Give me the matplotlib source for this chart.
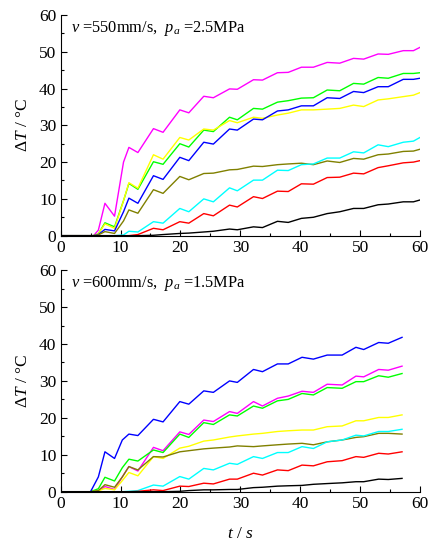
import matplotlib
matplotlib.use("Agg")
import matplotlib.pyplot as plt
from matplotlib.ticker import MultipleLocator

plt.rcParams["font.family"] = ["Liberation Serif", "DejaVu Serif"]
plt.rcParams["mathtext.fontset"] = "custom"
plt.rcParams["mathtext.rm"] = "Liberation Serif"
plt.rcParams["mathtext.it"] = "Liberation Serif:italic"

# colours of the eight curves (same order in both panels)
colors = ["#ff00ff", "#00ff00", "#ffff00", "#0000ff", "#808000", "#00ffff", "#ff0000", "#000000"]

# upper panel: v = 550 mm/s, pa = 2.5 MPa
t_top = [0, 5.5, 6.3, 7.4, 9.0, 10.5, 11.4, 12.9, 15.5, 17.1, 19.9, 21.4, 23.9, 25.5, 28.2, 29.5,
         32.2, 33.7, 36.2, 38.0, 40.2, 42.2, 44.5, 46.6, 48.9, 50.6, 53.0, 54.7, 57.2, 58.9, 60.0]
magenta_top = [0, 0, 1.5, 8.8, 5.3, 20, 24, 22.6, 29.1, 28.1, 34.2, 33.4, 37.9, 37.5, 39.9, 39.8,
               42.4, 42.3, 44.3, 44.4, 45.8, 45.8, 47.1, 46.9, 48.2, 48.0, 49.4, 49.3, 50.3, 50.3, 51.2]
green_top = [0, 0, 0.5, 3.5, 2.4, 9.5, 14.2, 12.6, 20.1, 19.4, 25.0, 24.1, 28.7, 28.3, 32.2, 31.5,
             34.6, 34.4, 36.3, 36.7, 37.4, 37.5, 39.6, 39.4, 41.4, 41.2, 43.0, 42.8, 44.1, 44.1, 44.3]
yellow_top = [0, 0, 0.5, 3.2, 2.0, 9.5, 14.4, 12.9, 22.0, 20.8, 26.7, 26.0, 29.0, 28.7, 31.3, 30.7,
              32.2, 31.9, 32.8, 33.3, 34.2, 34.2, 34.4, 34.6, 35.5, 35.1, 36.9, 37.2, 37.8, 38.2, 38.9]
blue_top = [0, 0, 0.3, 1.7, 1.3, 6.5, 10.2, 8.8, 16.3, 15.3, 21.3, 20.4, 25.4, 24.9, 29.0, 28.7,
            31.7, 31.5, 33.9, 34.2, 35.3, 35.3, 37.5, 37.3, 39.2, 38.9, 40.5, 40.5, 42.5, 42.5, 42.8]
olive_top = [0, 0, 0.2, 1.1, 0.6, 4.0, 7.0, 6.1, 12.5, 11.5, 16.1, 15.2, 16.9, 17.0, 17.9, 18.0,
             18.9, 18.8, 19.3, 19.5, 19.7, 19.3, 20.3, 19.9, 21.0, 20.8, 22.0, 22.2, 22.9, 23.0, 23.5]
cyan_top = [0, 0, 0, 0, 0, 0.2, 1.2, 1.0, 3.8, 3.4, 7.4, 6.5, 10.0, 9.2, 13.0, 12.2,
            15.1, 15.1, 17.8, 17.7, 19.3, 19.5, 21.1, 21.1, 22.8, 22.5, 24.7, 24.2, 25.4, 25.7, 26.7]
red_top = [0, 0, 0, 0, 0, 0, 0, 0.3, 2.0, 1.6, 3.8, 3.4, 6.0, 5.4, 8.3, 7.8,
           10.6, 10.1, 12.1, 12.0, 14.1, 14.0, 15.8, 15.9, 17.0, 16.8, 18.5, 19.0, 19.8, 20.0, 20.4]
black_top = [0, 0, 0, 0, 0, 0, 0, 0, 0.1, 0.3, 0.6, 0.7, 1.0, 1.2, 1.8, 1.6,
             2.4, 2.2, 3.9, 3.6, 4.7, 5.0, 6.0, 6.5, 7.4, 7.4, 8.4, 8.6, 9.2, 9.2, 9.7]

# lower panel: v = 600 mm/s, pa = 1.5 MPa
t_bot = [0, 5.0, 6.3, 7.4, 9.0, 10.3, 11.4, 12.9, 15.5, 17.1, 19.9, 21.4, 23.9, 25.5, 28.2,
         29.5, 32.2, 33.7, 36.2, 38.0, 40.3, 42.2, 44.5, 47.0, 49.3, 50.6, 53.1, 54.7, 57.0]
magenta_bot = [0, 0, 0.2, 1.4, 0.6, 4.0, 6.8, 5.6, 12.0, 11.1, 16.2, 15.5, 19.4, 19.0, 21.7,
               21.2, 24.4, 23.2, 25.3, 25.9, 27.2, 26.9, 29.1, 28.9, 31.3, 31.1, 33.1, 32.9, 34.0]
green_bot = [0, 0, 0.8, 3.9, 2.9, 6.5, 8.8, 8.3, 11.3, 10.6, 15.6, 14.7, 18.7, 18.2, 20.8,
             20.5, 23.2, 22.6, 24.6, 25.0, 26.6, 26.2, 28.2, 28.0, 29.8, 29.8, 31.4, 31.0, 32.0]
yellow_bot = [0, 0, 0.2, 0.9, 0.5, 3.0, 5.2, 4.3, 9.5, 9.0, 11.8, 12.3, 13.7, 14.0, 14.8,
              15.1, 15.6, 15.8, 16.3, 16.5, 16.7, 16.7, 17.6, 17.8, 19.2, 19.2, 20.1, 20.1, 20.8]
blue_bot = [0, 0, 4.0, 10.8, 9.0, 14.0, 15.6, 15.2, 19.6, 18.9, 24.4, 23.7, 27.3, 26.9, 30.0,
            29.6, 33.1, 32.5, 34.6, 34.6, 36.4, 35.9, 37.0, 37.0, 39.1, 38.5, 40.4, 40.2, 41.8]
olive_bot = [0, 0, 0.3, 1.9, 1.2, 4.0, 6.8, 5.9, 9.5, 9.4, 10.8, 11.1, 11.6, 11.8, 12.1,
             12.4, 12.2, 12.4, 12.7, 12.9, 13.1, 12.7, 13.5, 14.0, 14.7, 14.9, 15.8, 15.8, 15.6]
cyan_bot = [0, 0, 0, 0, 0, 0, 0.1, 0.3, 1.8, 1.5, 4.1, 3.4, 6.3, 5.9, 7.7,
            7.4, 9.5, 9.0, 10.6, 10.6, 12.2, 11.7, 13.5, 14.0, 15.3, 15.1, 16.3, 16.3, 16.9]
red_bot = [0, 0, 0, 0, 0, 0, 0, 0.1, 0.5, 0.3, 1.5, 1.4, 2.3, 2.1, 3.4,
           3.4, 5.0, 4.5, 5.9, 5.7, 7.2, 7.0, 8.1, 8.4, 9.5, 9.3, 10.4, 10.2, 10.8]
black_bot = [0, 0, 0, 0, 0, 0, 0, 0, 0, 0, 0.1, 0.3, 0.5, 0.5, 0.6,
             0.6, 1.1, 1.2, 1.5, 1.6, 1.7, 2.0, 2.2, 2.4, 2.7, 2.7, 3.4, 3.3, 3.6]

series_top = [magenta_top, green_top, yellow_top, blue_top, olive_top, cyan_top, red_top, black_top]
series_bot = [magenta_bot, green_bot, yellow_bot, blue_bot, olive_bot, cyan_bot, red_bot, black_bot]

fig = plt.figure(figsize=(4.33, 5.43), dpi=100)
ax1 = fig.add_axes([0.140, 0.566, 0.830, 0.4064])
ax2 = fig.add_axes([0.140, 0.0945, 0.830, 0.408])


def style(ax, note):
    ax.set_xlim(0, 60)
    ax.set_ylim(0, 60)
    ax.spines["top"].set_visible(False)
    ax.spines["right"].set_visible(False)
    ax.xaxis.set_major_locator(MultipleLocator(10))
    ax.xaxis.set_minor_locator(MultipleLocator(5))
    ax.yaxis.set_major_locator(MultipleLocator(10))
    ax.yaxis.set_minor_locator(MultipleLocator(5))
    ax.tick_params(which="major", direction="in", length=4, width=0.8, labelsize=12.5, pad=3)
    ax.tick_params(which="minor", direction="in", length=2.5, width=0.8)
    ax.set_ylabel(r"$\Delta T$ / °C", fontsize=12.5, labelpad=6)
    ax.text(0.03, 0.94, note, transform=ax.transAxes, fontsize=11.8, va="center", ha="left")


for vals, c in zip(series_top, colors):
    ax1.plot(t_top, vals, color=c, lw=1.0)
for vals, c in zip(series_bot, colors):
    ax2.plot(t_bot, vals, color=c, lw=1.0)

style(ax1, r"$v$ =550mm/s,  $p_a$ =2.5MPa")
style(ax2, r"$v$ =600mm/s,  $p_a$ =1.5MPa")
ax2.set_xlabel(r"$t$ / $s$", fontsize=12.5, labelpad=10)

fig.savefig("out.png", dpi=100)
